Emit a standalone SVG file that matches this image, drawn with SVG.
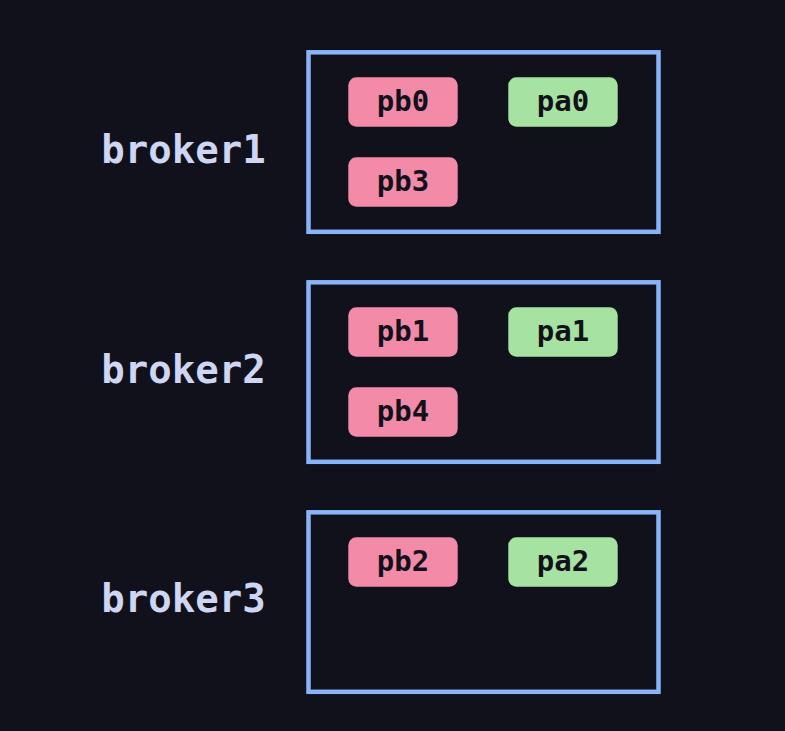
<svg xmlns="http://www.w3.org/2000/svg" width="785" height="731" viewBox="0 0 785 731">
<style>
.bg{fill:#11111b}
.broker{fill:none;stroke:#89b4fa;stroke-width:4.5}
.lbl{font-family:"DejaVu Sans Mono","Liberation Mono",monospace;font-weight:bold;font-size:39px;fill:#cdd6f4;text-anchor:middle}
.pb{fill:#f38ba8}
.pa{fill:#a6e3a1}
.nt{font-family:"DejaVu Sans Mono","Liberation Mono",monospace;font-weight:bold;font-size:29px;fill:#11111b;text-anchor:middle}
</style>
<rect class="bg" x="0" y="0" width="785" height="731"/>
<g id="broker1">
<rect class="broker" x="308.5" y="52.3" width="350" height="179.5"/>
<text class="lbl" x="183.5" y="163.3">broker1</text>
</g>
<g id="broker2">
<rect class="broker" x="308.5" y="282.3" width="350" height="179.5"/>
<text class="lbl" x="183.5" y="383.3">broker2</text>
</g>
<g id="broker3">
<rect class="broker" x="308.5" y="512.3" width="350" height="179.5"/>
<text class="lbl" x="183.5" y="611.7">broker3</text>
</g>
<g id="pb0"><rect class="pb" x="348.3" y="77.3" width="109.4" height="49.4" rx="8"/><text class="nt" x="403" y="110.7">pb0</text></g>
<g id="pa0"><rect class="pa" x="508.3" y="77.3" width="109.4" height="49.4" rx="8"/><text class="nt" x="563" y="110.7">pa0</text></g>
<g id="pb3"><rect class="pb" x="348.3" y="157.3" width="109.4" height="49.4" rx="8"/><text class="nt" x="403" y="190.7">pb3</text></g>
<g id="pb1"><rect class="pb" x="348.3" y="307.3" width="109.4" height="49.4" rx="8"/><text class="nt" x="403" y="340.7">pb1</text></g>
<g id="pa1"><rect class="pa" x="508.3" y="307.3" width="109.4" height="49.4" rx="8"/><text class="nt" x="563" y="340.7">pa1</text></g>
<g id="pb4"><rect class="pb" x="348.3" y="387.3" width="109.4" height="49.4" rx="8"/><text class="nt" x="403" y="420.7">pb4</text></g>
<g id="pb2"><rect class="pb" x="348.3" y="537.3" width="109.4" height="49.4" rx="8"/><text class="nt" x="403" y="570.7">pb2</text></g>
<g id="pa2"><rect class="pa" x="508.3" y="537.3" width="109.4" height="49.4" rx="8"/><text class="nt" x="563" y="570.7">pa2</text></g>
<g id="connectors"></g>
</svg>
